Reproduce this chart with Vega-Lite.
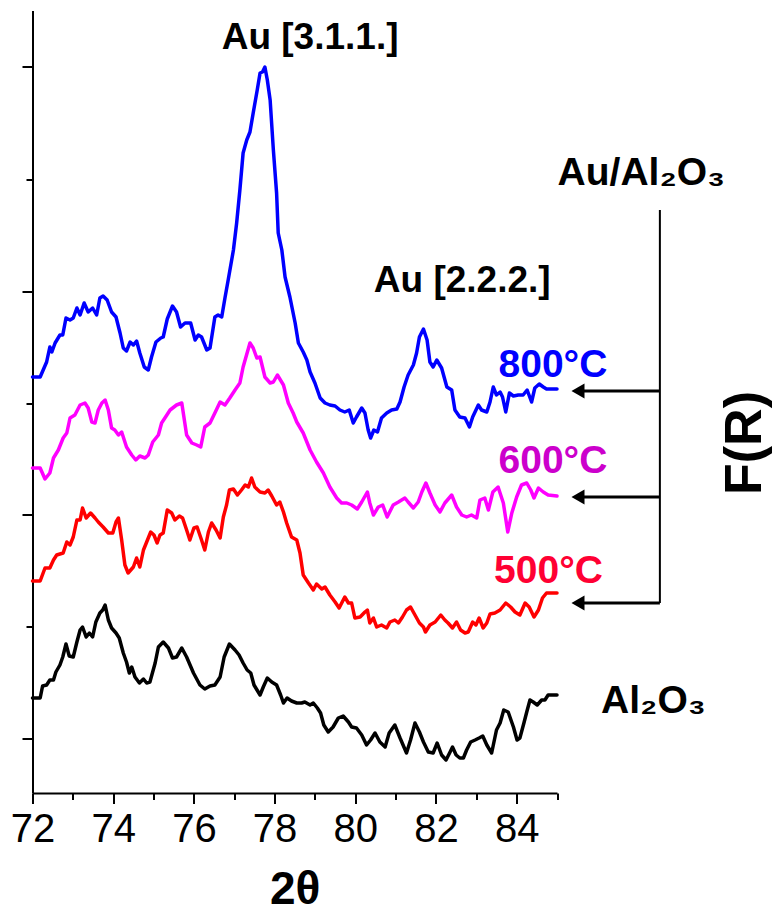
{
  "$schema": "https://vega.github.io/schema/vega-lite/v6.json",
  "width": 524.5,
  "height": 782.5,
  "autosize": {"type": "none"},
  "padding": {"left": 32.5, "top": 10.5, "right": 219, "bottom": 124},
  "background": "white",
  "config": {"view": {"stroke": null}, "font": "Liberation Sans"},
  "datasets": {
    "spectra": [
      {"sample":"Al2O3","twotheta":72.00,"FR":40},{"sample":"Al2O3","twotheta":72.19,"FR":40},{"sample":"Al2O3","twotheta":72.25,"FR":52},{"sample":"Al2O3","twotheta":72.35,"FR":53},{"sample":"Al2O3","twotheta":72.43,"FR":58},{"sample":"Al2O3","twotheta":72.52,"FR":58},{"sample":"Al2O3","twotheta":72.58,"FR":66},{"sample":"Al2O3","twotheta":72.68,"FR":73},{"sample":"Al2O3","twotheta":72.75,"FR":81},{"sample":"Al2O3","twotheta":72.83,"FR":94},{"sample":"Al2O3","twotheta":72.91,"FR":82},{"sample":"Al2O3","twotheta":73.01,"FR":81},{"sample":"Al2O3","twotheta":73.10,"FR":96},{"sample":"Al2O3","twotheta":73.18,"FR":108},{"sample":"Al2O3","twotheta":73.24,"FR":111},{"sample":"Al2O3","twotheta":73.33,"FR":101},{"sample":"Al2O3","twotheta":73.41,"FR":105},{"sample":"Al2O3","twotheta":73.49,"FR":101},{"sample":"Al2O3","twotheta":73.57,"FR":116},{"sample":"Al2O3","twotheta":73.67,"FR":125},{"sample":"Al2O3","twotheta":73.74,"FR":128},{"sample":"Al2O3","twotheta":73.80,"FR":133},{"sample":"Al2O3","twotheta":73.88,"FR":118},{"sample":"Al2O3","twotheta":73.96,"FR":110},{"sample":"Al2O3","twotheta":74.07,"FR":105},{"sample":"Al2O3","twotheta":74.15,"FR":100},{"sample":"Al2O3","twotheta":74.25,"FR":85},{"sample":"Al2O3","twotheta":74.33,"FR":76},{"sample":"Al2O3","twotheta":74.40,"FR":65},{"sample":"Al2O3","twotheta":74.46,"FR":71},{"sample":"Al2O3","twotheta":74.54,"FR":61},{"sample":"Al2O3","twotheta":74.65,"FR":55},{"sample":"Al2O3","twotheta":74.75,"FR":59},{"sample":"Al2O3","twotheta":74.83,"FR":55},{"sample":"Al2O3","twotheta":74.91,"FR":56},{"sample":"Al2O3","twotheta":75.04,"FR":75},{"sample":"Al2O3","twotheta":75.12,"FR":91},{"sample":"Al2O3","twotheta":75.24,"FR":96},{"sample":"Al2O3","twotheta":75.37,"FR":90},{"sample":"Al2O3","twotheta":75.47,"FR":80},{"sample":"Al2O3","twotheta":75.57,"FR":81},{"sample":"Al2O3","twotheta":75.70,"FR":90},{"sample":"Al2O3","twotheta":75.82,"FR":81},{"sample":"Al2O3","twotheta":75.99,"FR":65},{"sample":"Al2O3","twotheta":76.15,"FR":53},{"sample":"Al2O3","twotheta":76.27,"FR":49},{"sample":"Al2O3","twotheta":76.40,"FR":52},{"sample":"Al2O3","twotheta":76.52,"FR":53},{"sample":"Al2O3","twotheta":76.65,"FR":61},{"sample":"Al2O3","twotheta":76.75,"FR":81},{"sample":"Al2O3","twotheta":76.88,"FR":94},{"sample":"Al2O3","twotheta":77.02,"FR":88},{"sample":"Al2O3","twotheta":77.12,"FR":83},{"sample":"Al2O3","twotheta":77.22,"FR":75},{"sample":"Al2O3","twotheta":77.32,"FR":68},{"sample":"Al2O3","twotheta":77.41,"FR":65},{"sample":"Al2O3","twotheta":77.49,"FR":53},{"sample":"Al2O3","twotheta":77.64,"FR":43},{"sample":"Al2O3","twotheta":77.72,"FR":51},{"sample":"Al2O3","twotheta":77.82,"FR":60},{"sample":"Al2O3","twotheta":77.93,"FR":56},{"sample":"Al2O3","twotheta":78.05,"FR":53},{"sample":"Al2O3","twotheta":78.15,"FR":43},{"sample":"Al2O3","twotheta":78.22,"FR":35},{"sample":"Al2O3","twotheta":78.31,"FR":40},{"sample":"Al2O3","twotheta":78.42,"FR":37},{"sample":"Al2O3","twotheta":78.55,"FR":35},{"sample":"Al2O3","twotheta":78.67,"FR":35},{"sample":"Al2O3","twotheta":78.75,"FR":36},{"sample":"Al2O3","twotheta":78.88,"FR":33},{"sample":"Al2O3","twotheta":78.96,"FR":35},{"sample":"Al2O3","twotheta":79.06,"FR":30},{"sample":"Al2O3","twotheta":79.14,"FR":25},{"sample":"Al2O3","twotheta":79.22,"FR":13},{"sample":"Al2O3","twotheta":79.33,"FR":6},{"sample":"Al2O3","twotheta":79.45,"FR":11},{"sample":"Al2O3","twotheta":79.58,"FR":20},{"sample":"Al2O3","twotheta":79.70,"FR":22},{"sample":"Al2O3","twotheta":79.83,"FR":16},{"sample":"Al2O3","twotheta":79.91,"FR":11},{"sample":"Al2O3","twotheta":80.03,"FR":10},{"sample":"Al2O3","twotheta":80.16,"FR":3},{"sample":"Al2O3","twotheta":80.28,"FR":-7},{"sample":"Al2O3","twotheta":80.38,"FR":-2},{"sample":"Al2O3","twotheta":80.49,"FR":5},{"sample":"Al2O3","twotheta":80.61,"FR":-4},{"sample":"Al2O3","twotheta":80.74,"FR":-9},{"sample":"Al2O3","twotheta":80.84,"FR":5},{"sample":"Al2O3","twotheta":80.98,"FR":13},{"sample":"Al2O3","twotheta":81.11,"FR":0},{"sample":"Al2O3","twotheta":81.27,"FR":-15},{"sample":"Al2O3","twotheta":81.37,"FR":-2},{"sample":"Al2O3","twotheta":81.48,"FR":15},{"sample":"Al2O3","twotheta":81.59,"FR":6},{"sample":"Al2O3","twotheta":81.69,"FR":-4},{"sample":"Al2O3","twotheta":81.81,"FR":-14},{"sample":"Al2O3","twotheta":81.93,"FR":-15},{"sample":"Al2O3","twotheta":82.03,"FR":-5},{"sample":"Al2O3","twotheta":82.14,"FR":-17},{"sample":"Al2O3","twotheta":82.25,"FR":-22},{"sample":"Al2O3","twotheta":82.35,"FR":-14},{"sample":"Al2O3","twotheta":82.41,"FR":-9},{"sample":"Al2O3","twotheta":82.50,"FR":-17},{"sample":"Al2O3","twotheta":82.59,"FR":-20},{"sample":"Al2O3","twotheta":82.68,"FR":-20},{"sample":"Al2O3","twotheta":82.76,"FR":-12},{"sample":"Al2O3","twotheta":82.86,"FR":-4},{"sample":"Al2O3","twotheta":82.97,"FR":-2},{"sample":"Al2O3","twotheta":83.07,"FR":0},{"sample":"Al2O3","twotheta":83.16,"FR":2},{"sample":"Al2O3","twotheta":83.26,"FR":-7},{"sample":"Al2O3","twotheta":83.38,"FR":-15},{"sample":"Al2O3","twotheta":83.50,"FR":8},{"sample":"Al2O3","twotheta":83.59,"FR":15},{"sample":"Al2O3","twotheta":83.68,"FR":28},{"sample":"Al2O3","twotheta":83.79,"FR":26},{"sample":"Al2O3","twotheta":83.92,"FR":11},{"sample":"Al2O3","twotheta":84.01,"FR":-2},{"sample":"Al2O3","twotheta":84.08,"FR":0},{"sample":"Al2O3","twotheta":84.18,"FR":15},{"sample":"Al2O3","twotheta":84.25,"FR":26},{"sample":"Al2O3","twotheta":84.33,"FR":38},{"sample":"Al2O3","twotheta":84.41,"FR":36},{"sample":"Al2O3","twotheta":84.51,"FR":33},{"sample":"Al2O3","twotheta":84.62,"FR":38},{"sample":"Al2O3","twotheta":84.70,"FR":38},{"sample":"Al2O3","twotheta":84.78,"FR":43},{"sample":"Al2O3","twotheta":85.00,"FR":43},

      {"sample":"500","twotheta":72.00,"FR":157},{"sample":"500","twotheta":72.19,"FR":157},{"sample":"500","twotheta":72.31,"FR":170},{"sample":"500","twotheta":72.43,"FR":170},{"sample":"500","twotheta":72.52,"FR":178},{"sample":"500","twotheta":72.60,"FR":183},{"sample":"500","twotheta":72.76,"FR":185},{"sample":"500","twotheta":72.85,"FR":196},{"sample":"500","twotheta":72.93,"FR":193},{"sample":"500","twotheta":73.01,"FR":201},{"sample":"500","twotheta":73.10,"FR":218},{"sample":"500","twotheta":73.18,"FR":218},{"sample":"500","twotheta":73.24,"FR":230},{"sample":"500","twotheta":73.33,"FR":220},{"sample":"500","twotheta":73.44,"FR":225},{"sample":"500","twotheta":73.55,"FR":220},{"sample":"500","twotheta":73.63,"FR":216},{"sample":"500","twotheta":73.75,"FR":211},{"sample":"500","twotheta":73.88,"FR":205},{"sample":"500","twotheta":73.99,"FR":205},{"sample":"500","twotheta":74.07,"FR":216},{"sample":"500","twotheta":74.13,"FR":220},{"sample":"500","twotheta":74.21,"FR":198},{"sample":"500","twotheta":74.29,"FR":173},{"sample":"500","twotheta":74.37,"FR":165},{"sample":"500","twotheta":74.50,"FR":171},{"sample":"500","twotheta":74.58,"FR":180},{"sample":"500","twotheta":74.66,"FR":171},{"sample":"500","twotheta":74.75,"FR":188},{"sample":"500","twotheta":74.83,"FR":196},{"sample":"500","twotheta":74.93,"FR":206},{"sample":"500","twotheta":75.01,"FR":203},{"sample":"500","twotheta":75.09,"FR":195},{"sample":"500","twotheta":75.16,"FR":203},{"sample":"500","twotheta":75.24,"FR":205},{"sample":"500","twotheta":75.34,"FR":228},{"sample":"500","twotheta":75.45,"FR":225},{"sample":"500","twotheta":75.53,"FR":218},{"sample":"500","twotheta":75.64,"FR":222},{"sample":"500","twotheta":75.72,"FR":220},{"sample":"500","twotheta":75.82,"FR":208},{"sample":"500","twotheta":75.90,"FR":198},{"sample":"500","twotheta":76.00,"FR":210},{"sample":"500","twotheta":76.08,"FR":211},{"sample":"500","twotheta":76.19,"FR":198},{"sample":"500","twotheta":76.27,"FR":188},{"sample":"500","twotheta":76.36,"FR":206},{"sample":"500","twotheta":76.44,"FR":215},{"sample":"500","twotheta":76.55,"FR":208},{"sample":"500","twotheta":76.65,"FR":200},{"sample":"500","twotheta":76.73,"FR":221},{"sample":"500","twotheta":76.81,"FR":233},{"sample":"500","twotheta":76.88,"FR":248},{"sample":"500","twotheta":76.98,"FR":249},{"sample":"500","twotheta":77.08,"FR":243},{"sample":"500","twotheta":77.18,"FR":248},{"sample":"500","twotheta":77.27,"FR":253},{"sample":"500","twotheta":77.35,"FR":251},{"sample":"500","twotheta":77.43,"FR":260},{"sample":"500","twotheta":77.51,"FR":251},{"sample":"500","twotheta":77.64,"FR":246},{"sample":"500","twotheta":77.76,"FR":245},{"sample":"500","twotheta":77.84,"FR":248},{"sample":"500","twotheta":77.93,"FR":242},{"sample":"500","twotheta":78.05,"FR":233},{"sample":"500","twotheta":78.13,"FR":236},{"sample":"500","twotheta":78.22,"FR":226},{"sample":"500","twotheta":78.30,"FR":215},{"sample":"500","twotheta":78.42,"FR":201},{"sample":"500","twotheta":78.55,"FR":198},{"sample":"500","twotheta":78.63,"FR":185},{"sample":"500","twotheta":78.71,"FR":163},{"sample":"500","twotheta":78.84,"FR":155},{"sample":"500","twotheta":78.96,"FR":148},{"sample":"500","twotheta":79.04,"FR":154},{"sample":"500","twotheta":79.17,"FR":149},{"sample":"500","twotheta":79.25,"FR":151},{"sample":"500","twotheta":79.37,"FR":143},{"sample":"500","twotheta":79.50,"FR":136},{"sample":"500","twotheta":79.60,"FR":130},{"sample":"500","twotheta":79.74,"FR":141},{"sample":"500","twotheta":79.83,"FR":135},{"sample":"500","twotheta":79.91,"FR":135},{"sample":"500","twotheta":79.99,"FR":120},{"sample":"500","twotheta":80.12,"FR":121},{"sample":"500","twotheta":80.24,"FR":126},{"sample":"500","twotheta":80.30,"FR":128},{"sample":"500","twotheta":80.36,"FR":115},{"sample":"500","twotheta":80.45,"FR":120},{"sample":"500","twotheta":80.53,"FR":111},{"sample":"500","twotheta":80.65,"FR":113},{"sample":"500","twotheta":80.78,"FR":110},{"sample":"500","twotheta":80.86,"FR":116},{"sample":"500","twotheta":80.98,"FR":118},{"sample":"500","twotheta":81.07,"FR":115},{"sample":"500","twotheta":81.17,"FR":121},{"sample":"500","twotheta":81.27,"FR":128},{"sample":"500","twotheta":81.37,"FR":131},{"sample":"500","twotheta":81.48,"FR":123},{"sample":"500","twotheta":81.59,"FR":115},{"sample":"500","twotheta":81.69,"FR":111},{"sample":"500","twotheta":81.74,"FR":106},{"sample":"500","twotheta":81.85,"FR":113},{"sample":"500","twotheta":81.98,"FR":116},{"sample":"500","twotheta":82.12,"FR":123},{"sample":"500","twotheta":82.22,"FR":118},{"sample":"500","twotheta":82.30,"FR":115},{"sample":"500","twotheta":82.41,"FR":110},{"sample":"500","twotheta":82.51,"FR":116},{"sample":"500","twotheta":82.61,"FR":108},{"sample":"500","twotheta":82.72,"FR":105},{"sample":"500","twotheta":82.80,"FR":106},{"sample":"500","twotheta":82.91,"FR":116},{"sample":"500","twotheta":82.99,"FR":113},{"sample":"500","twotheta":83.07,"FR":120},{"sample":"500","twotheta":83.17,"FR":110},{"sample":"500","twotheta":83.26,"FR":115},{"sample":"500","twotheta":83.34,"FR":124},{"sample":"500","twotheta":83.46,"FR":125},{"sample":"500","twotheta":83.59,"FR":128},{"sample":"500","twotheta":83.73,"FR":135},{"sample":"500","twotheta":83.85,"FR":131},{"sample":"500","twotheta":83.96,"FR":126},{"sample":"500","twotheta":84.08,"FR":123},{"sample":"500","twotheta":84.21,"FR":135},{"sample":"500","twotheta":84.31,"FR":131},{"sample":"500","twotheta":84.43,"FR":121},{"sample":"500","twotheta":84.54,"FR":128},{"sample":"500","twotheta":84.64,"FR":140},{"sample":"500","twotheta":84.74,"FR":145},{"sample":"500","twotheta":85.00,"FR":145},

      {"sample":"600","twotheta":72.00,"FR":270},{"sample":"600","twotheta":72.19,"FR":270},{"sample":"600","twotheta":72.31,"FR":259},{"sample":"600","twotheta":72.43,"FR":265},{"sample":"600","twotheta":72.52,"FR":280},{"sample":"600","twotheta":72.64,"FR":288},{"sample":"600","twotheta":72.76,"FR":300},{"sample":"600","twotheta":72.85,"FR":305},{"sample":"600","twotheta":72.93,"FR":320},{"sample":"600","twotheta":73.05,"FR":323},{"sample":"600","twotheta":73.18,"FR":333},{"sample":"600","twotheta":73.30,"FR":335},{"sample":"600","twotheta":73.38,"FR":330},{"sample":"600","twotheta":73.47,"FR":316},{"sample":"600","twotheta":73.55,"FR":315},{"sample":"600","twotheta":73.63,"FR":328},{"sample":"600","twotheta":73.72,"FR":335},{"sample":"600","twotheta":73.80,"FR":338},{"sample":"600","twotheta":73.88,"FR":328},{"sample":"600","twotheta":73.96,"FR":310},{"sample":"600","twotheta":74.04,"FR":308},{"sample":"600","twotheta":74.13,"FR":303},{"sample":"600","twotheta":74.21,"FR":306},{"sample":"600","twotheta":74.33,"FR":291},{"sample":"600","twotheta":74.46,"FR":283},{"sample":"600","twotheta":74.56,"FR":278},{"sample":"600","twotheta":74.66,"FR":282},{"sample":"600","twotheta":74.79,"FR":280},{"sample":"600","twotheta":74.87,"FR":283},{"sample":"600","twotheta":74.98,"FR":296},{"sample":"600","twotheta":75.12,"FR":303},{"sample":"600","twotheta":75.20,"FR":315},{"sample":"600","twotheta":75.33,"FR":323},{"sample":"600","twotheta":75.41,"FR":328},{"sample":"600","twotheta":75.57,"FR":333},{"sample":"600","twotheta":75.70,"FR":335},{"sample":"600","twotheta":75.82,"FR":303},{"sample":"600","twotheta":75.95,"FR":295},{"sample":"600","twotheta":76.07,"FR":293},{"sample":"600","twotheta":76.17,"FR":291},{"sample":"600","twotheta":76.27,"FR":311},{"sample":"600","twotheta":76.40,"FR":315},{"sample":"600","twotheta":76.52,"FR":325},{"sample":"600","twotheta":76.65,"FR":336},{"sample":"600","twotheta":76.77,"FR":333},{"sample":"600","twotheta":76.89,"FR":340},{"sample":"600","twotheta":77.02,"FR":348},{"sample":"600","twotheta":77.14,"FR":355},{"sample":"600","twotheta":77.22,"FR":371},{"sample":"600","twotheta":77.39,"FR":395},{"sample":"600","twotheta":77.47,"FR":390},{"sample":"600","twotheta":77.56,"FR":380},{"sample":"600","twotheta":77.64,"FR":381},{"sample":"600","twotheta":77.76,"FR":361},{"sample":"600","twotheta":77.89,"FR":355},{"sample":"600","twotheta":77.97,"FR":356},{"sample":"600","twotheta":78.07,"FR":363},{"sample":"600","twotheta":78.22,"FR":353},{"sample":"600","twotheta":78.34,"FR":335},{"sample":"600","twotheta":78.46,"FR":325},{"sample":"600","twotheta":78.55,"FR":316},{"sample":"600","twotheta":78.71,"FR":305},{"sample":"600","twotheta":78.88,"FR":288},{"sample":"600","twotheta":79.04,"FR":276},{"sample":"600","twotheta":79.21,"FR":265},{"sample":"600","twotheta":79.37,"FR":251},{"sample":"600","twotheta":79.54,"FR":240},{"sample":"600","twotheta":79.66,"FR":235},{"sample":"600","twotheta":79.79,"FR":235},{"sample":"600","twotheta":79.91,"FR":233},{"sample":"600","twotheta":80.05,"FR":229},{"sample":"600","twotheta":80.16,"FR":236},{"sample":"600","twotheta":80.30,"FR":246},{"sample":"600","twotheta":80.36,"FR":235},{"sample":"600","twotheta":80.45,"FR":223},{"sample":"600","twotheta":80.57,"FR":231},{"sample":"600","twotheta":80.68,"FR":233},{"sample":"600","twotheta":80.79,"FR":221},{"sample":"600","twotheta":80.94,"FR":233},{"sample":"600","twotheta":81.07,"FR":236},{"sample":"600","twotheta":81.23,"FR":240},{"sample":"600","twotheta":81.31,"FR":236},{"sample":"600","twotheta":81.44,"FR":230},{"sample":"600","twotheta":81.56,"FR":236},{"sample":"600","twotheta":81.65,"FR":246},{"sample":"600","twotheta":81.75,"FR":255},{"sample":"600","twotheta":81.85,"FR":245},{"sample":"600","twotheta":81.98,"FR":233},{"sample":"600","twotheta":82.10,"FR":226},{"sample":"600","twotheta":82.22,"FR":235},{"sample":"600","twotheta":82.39,"FR":243},{"sample":"600","twotheta":82.51,"FR":231},{"sample":"600","twotheta":82.64,"FR":223},{"sample":"600","twotheta":82.76,"FR":221},{"sample":"600","twotheta":82.88,"FR":223},{"sample":"600","twotheta":83.01,"FR":220},{"sample":"600","twotheta":83.09,"FR":238},{"sample":"600","twotheta":83.21,"FR":240},{"sample":"600","twotheta":83.30,"FR":228},{"sample":"600","twotheta":83.41,"FR":246},{"sample":"600","twotheta":83.54,"FR":251},{"sample":"600","twotheta":83.67,"FR":235},{"sample":"600","twotheta":83.78,"FR":206},{"sample":"600","twotheta":83.88,"FR":225},{"sample":"600","twotheta":84.00,"FR":241},{"sample":"600","twotheta":84.12,"FR":253},{"sample":"600","twotheta":84.25,"FR":255},{"sample":"600","twotheta":84.35,"FR":248},{"sample":"600","twotheta":84.43,"FR":240},{"sample":"600","twotheta":84.54,"FR":250},{"sample":"600","twotheta":84.66,"FR":246},{"sample":"600","twotheta":84.78,"FR":243},{"sample":"600","twotheta":85.00,"FR":242},

      {"sample":"800","twotheta":72.00,"FR":361},{"sample":"800","twotheta":72.19,"FR":361},{"sample":"800","twotheta":72.35,"FR":376},{"sample":"800","twotheta":72.43,"FR":391},{"sample":"800","twotheta":72.48,"FR":386},{"sample":"800","twotheta":72.56,"FR":395},{"sample":"800","twotheta":72.68,"FR":403},{"sample":"800","twotheta":72.75,"FR":403},{"sample":"800","twotheta":72.83,"FR":420},{"sample":"800","twotheta":72.93,"FR":418},{"sample":"800","twotheta":73.01,"FR":420},{"sample":"800","twotheta":73.10,"FR":430},{"sample":"800","twotheta":73.18,"FR":423},{"sample":"800","twotheta":73.28,"FR":435},{"sample":"800","twotheta":73.38,"FR":426},{"sample":"800","twotheta":73.49,"FR":430},{"sample":"800","twotheta":73.59,"FR":423},{"sample":"800","twotheta":73.67,"FR":440},{"sample":"800","twotheta":73.75,"FR":442},{"sample":"800","twotheta":73.85,"FR":438},{"sample":"800","twotheta":73.96,"FR":426},{"sample":"800","twotheta":74.07,"FR":421},{"sample":"800","twotheta":74.17,"FR":405},{"sample":"800","twotheta":74.25,"FR":390},{"sample":"800","twotheta":74.33,"FR":387},{"sample":"800","twotheta":74.42,"FR":396},{"sample":"800","twotheta":74.50,"FR":393},{"sample":"800","twotheta":74.58,"FR":397},{"sample":"800","twotheta":74.66,"FR":385},{"sample":"800","twotheta":74.77,"FR":371},{"sample":"800","twotheta":74.87,"FR":368},{"sample":"800","twotheta":74.95,"FR":381},{"sample":"800","twotheta":75.06,"FR":396},{"sample":"800","twotheta":75.18,"FR":400},{"sample":"800","twotheta":75.24,"FR":401},{"sample":"800","twotheta":75.34,"FR":419},{"sample":"800","twotheta":75.47,"FR":432},{"sample":"800","twotheta":75.57,"FR":426},{"sample":"800","twotheta":75.67,"FR":411},{"sample":"800","twotheta":75.78,"FR":415},{"sample":"800","twotheta":75.92,"FR":415},{"sample":"800","twotheta":76.03,"FR":398},{"sample":"800","twotheta":76.11,"FR":403},{"sample":"800","twotheta":76.19,"FR":401},{"sample":"800","twotheta":76.32,"FR":388},{"sample":"800","twotheta":76.40,"FR":390},{"sample":"800","twotheta":76.52,"FR":421},{"sample":"800","twotheta":76.60,"FR":423},{"sample":"800","twotheta":76.69,"FR":421},{"sample":"800","twotheta":76.77,"FR":440},{"sample":"800","twotheta":76.85,"FR":458},{"sample":"800","twotheta":76.98,"FR":488},{"sample":"800","twotheta":77.06,"FR":515},{"sample":"800","twotheta":77.14,"FR":548},{"sample":"800","twotheta":77.22,"FR":585},{"sample":"800","twotheta":77.31,"FR":598},{"sample":"800","twotheta":77.39,"FR":606},{"sample":"800","twotheta":77.47,"FR":625},{"sample":"800","twotheta":77.57,"FR":648},{"sample":"800","twotheta":77.64,"FR":665},{"sample":"800","twotheta":77.70,"FR":666},{"sample":"800","twotheta":77.76,"FR":671},{"sample":"800","twotheta":77.82,"FR":658},{"sample":"800","twotheta":77.89,"FR":638},{"sample":"800","twotheta":77.97,"FR":588},{"sample":"800","twotheta":78.05,"FR":545},{"sample":"800","twotheta":78.09,"FR":505},{"sample":"800","twotheta":78.18,"FR":488},{"sample":"800","twotheta":78.26,"FR":461},{"sample":"800","twotheta":78.38,"FR":441},{"sample":"800","twotheta":78.51,"FR":415},{"sample":"800","twotheta":78.59,"FR":395},{"sample":"800","twotheta":78.71,"FR":386},{"sample":"800","twotheta":78.80,"FR":378},{"sample":"800","twotheta":78.88,"FR":366},{"sample":"800","twotheta":79.00,"FR":355},{"sample":"800","twotheta":79.13,"FR":340},{"sample":"800","twotheta":79.25,"FR":335},{"sample":"800","twotheta":79.37,"FR":333},{"sample":"800","twotheta":79.50,"FR":332},{"sample":"800","twotheta":79.62,"FR":328},{"sample":"800","twotheta":79.74,"FR":326},{"sample":"800","twotheta":79.85,"FR":328},{"sample":"800","twotheta":79.95,"FR":315},{"sample":"800","twotheta":80.03,"FR":321},{"sample":"800","twotheta":80.16,"FR":330},{"sample":"800","twotheta":80.24,"FR":325},{"sample":"800","twotheta":80.32,"FR":308},{"sample":"800","twotheta":80.38,"FR":300},{"sample":"800","twotheta":80.46,"FR":308},{"sample":"800","twotheta":80.55,"FR":306},{"sample":"800","twotheta":80.65,"FR":320},{"sample":"800","twotheta":80.78,"FR":325},{"sample":"800","twotheta":80.90,"FR":328},{"sample":"800","twotheta":81.03,"FR":329},{"sample":"800","twotheta":81.11,"FR":336},{"sample":"800","twotheta":81.21,"FR":351},{"sample":"800","twotheta":81.31,"FR":363},{"sample":"800","twotheta":81.44,"FR":373},{"sample":"800","twotheta":81.52,"FR":385},{"sample":"800","twotheta":81.59,"FR":401},{"sample":"800","twotheta":81.69,"FR":409},{"sample":"800","twotheta":81.78,"FR":398},{"sample":"800","twotheta":81.85,"FR":376},{"sample":"800","twotheta":81.93,"FR":371},{"sample":"800","twotheta":82.02,"FR":378},{"sample":"800","twotheta":82.14,"FR":370},{"sample":"800","twotheta":82.27,"FR":351},{"sample":"800","twotheta":82.39,"FR":348},{"sample":"800","twotheta":82.47,"FR":328},{"sample":"800","twotheta":82.59,"FR":321},{"sample":"800","twotheta":82.72,"FR":320},{"sample":"800","twotheta":82.83,"FR":311},{"sample":"800","twotheta":82.91,"FR":321},{"sample":"800","twotheta":83.05,"FR":333},{"sample":"800","twotheta":83.13,"FR":328},{"sample":"800","twotheta":83.26,"FR":326},{"sample":"800","twotheta":83.34,"FR":336},{"sample":"800","twotheta":83.42,"FR":351},{"sample":"800","twotheta":83.50,"FR":343},{"sample":"800","twotheta":83.59,"FR":346},{"sample":"800","twotheta":83.65,"FR":341},{"sample":"800","twotheta":83.73,"FR":326},{"sample":"800","twotheta":83.82,"FR":345},{"sample":"800","twotheta":83.92,"FR":342},{"sample":"800","twotheta":84.04,"FR":343},{"sample":"800","twotheta":84.16,"FR":343},{"sample":"800","twotheta":84.26,"FR":348},{"sample":"800","twotheta":84.37,"FR":336},{"sample":"800","twotheta":84.45,"FR":350},{"sample":"800","twotheta":84.56,"FR":354},{"sample":"800","twotheta":84.66,"FR":351},{"sample":"800","twotheta":84.74,"FR":349},{"sample":"800","twotheta":85.00,"FR":349}
    ],
    "peaks": [
      {"label": "Au [3.1.1.]", "twotheta": 78.88, "FR": 689},
      {"label": "Au [2.2.2.]", "twotheta": 82.65, "FR": 446}
    ],
    "samples": [
      {"label": "Au/Al₂O₃", "twotheta": 87.09, "FR": 553},
      {"label": "800°C", "twotheta": 84.90, "FR": 361},
      {"label": "600°C", "twotheta": 84.90, "FR": 265},
      {"label": "500°C", "twotheta": 84.79, "FR": 155},
      {"label": "Al₂O₃", "twotheta": 87.39, "FR": 25}
    ],
    "bracket": [
      {"twotheta": 87.55, "top": 528, "bottom": 135}
    ],
    "arrows": [
      {"sample": "800", "from": 87.55, "to": 85.57, "tip": 85.52, "FR": 347},
      {"sample": "600", "from": 87.55, "to": 85.57, "tip": 85.52, "FR": 241},
      {"sample": "500", "from": 87.55, "to": 85.57, "tip": 85.52, "FR": 135}
    ]
  },
  "resolve": {"scale": {"color": "independent"}},
  "layer": [
    {
      "data": {"name": "spectra"},
      "mark": {"type": "line", "strokeWidth": 3.5, "strokeJoin": "round", "strokeCap": "round"},
      "encoding": {
        "x": {
          "field": "twotheta", "type": "quantitative",
          "scale": {"domain": [72, 85], "nice": false, "zero": false},
          "axis": {
            "title": "2θ",
            "values": [72, 73, 74, 75, 76, 77, 78, 79, 80, 81, 82, 83, 84, 85],
            "format": "d",
            "labelExpr": "datum.value % 2 === 0 ? datum.label : ''",
            "labelFlush": false,
            "labelOverlap": false,
            "labelFont": "Liberation Sans",
            "labelFontSize": 40,
            "labelColor": "black",
            "labelPadding": 6,
            "tickColor": "black",
            "tickWidth": 2,
            "tickSize": {"condition": {"test": "datum.value % 2 === 0", "value": 10.5}, "value": 6.5},
            "domainColor": "black",
            "domainWidth": 2,
            "grid": false,
            "titleFont": "Liberation Sans",
            "titleFontSize": 46,
            "titleFontWeight": "bold",
            "titleColor": "black",
            "titleBaseline": "alphabetic",
            "titleY": 110
          }
        },
        "y": {
          "field": "FR", "type": "quantitative",
          "scale": {"domain": [-55, 727.5], "nice": false, "zero": false},
          "axis": {
            "title": "F(R)",
            "values": [0, 112, 224, 335, 447, 559, 671],
            "labels": false,
            "tickColor": "black",
            "tickWidth": 2,
            "tickSize": {"condition": {"test": "indexof([0, 224, 447, 671], datum.value) >= 0", "value": 10.5}, "value": 6.5},
            "domainColor": "black",
            "domainWidth": 2,
            "grid": false,
            "titleFont": "Liberation Sans",
            "titleFontSize": 52,
            "titleFontWeight": "bold",
            "titleColor": "black",
            "titleAngle": 270,
            "titleAlign": "center",
            "titleBaseline": "alphabetic",
            "titleX": 727.5,
            "titleY": 432
          }
        },
        "color": {
          "field": "sample", "type": "nominal",
          "scale": {"domain": ["Al2O3", "500", "600", "800"], "range": ["#000000", "#FF0000", "#FF00FF", "#0000FF"]},
          "legend": null
        }
      }
    },
    {
      "data": {"name": "bracket"},
      "mark": {"type": "rule", "color": "black", "strokeWidth": 2},
      "encoding": {
        "x": {"field": "twotheta", "type": "quantitative"},
        "y": {"field": "top", "type": "quantitative"},
        "y2": {"field": "bottom"}
      }
    },
    {
      "data": {"name": "arrows"},
      "mark": {"type": "rule", "color": "black", "strokeWidth": 3},
      "encoding": {
        "x": {"field": "from", "type": "quantitative"},
        "x2": {"field": "to"},
        "y": {"field": "FR", "type": "quantitative"}
      }
    },
    {
      "data": {"name": "arrows"},
      "mark": {"type": "point", "shape": "triangle-left", "filled": true, "color": "black", "opacity": 1, "size": 225},
      "encoding": {
        "x": {"field": "tip", "type": "quantitative"},
        "y": {"field": "FR", "type": "quantitative"}
      }
    },
    {
      "data": {"name": "peaks"},
      "mark": {"type": "text", "font": "Liberation Sans", "fontSize": 37, "fontWeight": "bold", "color": "black", "align": "center", "baseline": "alphabetic"},
      "encoding": {
        "x": {"field": "twotheta", "type": "quantitative"},
        "y": {"field": "FR", "type": "quantitative"},
        "text": {"field": "label"}
      }
    },
    {
      "data": {"name": "samples"},
      "mark": {"type": "text", "font": "Liberation Sans", "fontSize": 39, "fontWeight": "bold", "align": "center", "baseline": "alphabetic"},
      "encoding": {
        "x": {"field": "twotheta", "type": "quantitative"},
        "y": {"field": "FR", "type": "quantitative"},
        "text": {"field": "label"},
        "color": {
          "field": "label", "type": "nominal",
          "scale": {"domain": ["Au/Al₂O₃", "800°C", "600°C", "500°C", "Al₂O₃"], "range": ["#000000", "#0000FF", "#CC00CC", "#FF0033", "#000000"]},
          "legend": null
        }
      }
    }
  ]
}
